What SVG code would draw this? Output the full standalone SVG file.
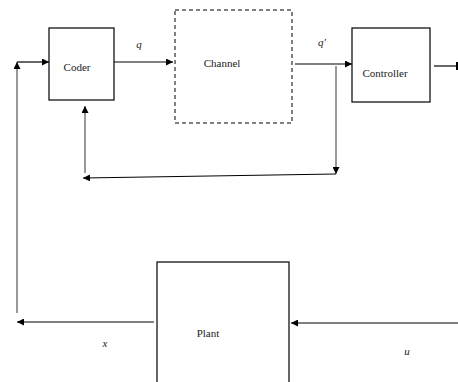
<svg xmlns="http://www.w3.org/2000/svg" width="458" height="382" viewBox="0 0 458 382">
<style>
.box{fill:#fff;stroke:#000;stroke-width:1.2}
.dash{fill:none;stroke:#000;stroke-width:1;stroke-dasharray:4,3}
.ln{fill:none;stroke:#000;stroke-width:1.2}
.lg{fill:none;stroke:#444;stroke-width:1.1}
.t{font-family:'Liberation Serif','Times New Roman',serif;font-size:11px;fill:#222}
.it{font-style:italic}
</style>
<defs>
<marker id="ah" viewBox="0 0 10 10" refX="10" refY="5" markerWidth="8" markerHeight="7" markerUnits="userSpaceOnUse" orient="auto">
<path d="M0,0 L10,5 L0,10 Z" fill="#000"/>
</marker>
</defs>
<g id="coder"><rect class="box" x="49" y="28" width="65" height="72"/><text class="t" font-family="Liberation Serif, serif" x="77" y="71" text-anchor="middle">Coder</text></g>
<g id="channel"><rect class="dash" x="175" y="10" width="117" height="113"/><text class="t" font-family="Liberation Serif, serif" x="222" y="67" text-anchor="middle">Channel</text></g>
<g id="controller"><rect class="box" x="352" y="28" width="78" height="74"/><text class="t" font-family="Liberation Serif, serif" x="385" y="77" text-anchor="middle">Controller</text></g>
<g id="plant"><rect class="box" x="157" y="262" width="132" height="130"/><text class="t" font-family="Liberation Serif, serif" x="208" y="337" text-anchor="middle">Plant</text></g>
<g id="connectors">
<line class="ln" x1="114" y1="62" x2="173" y2="62" marker-end="url(#ah)"/>
<line class="ln" x1="295" y1="64" x2="352" y2="64" marker-end="url(#ah)"/>
<line class="ln" x1="434" y1="66" x2="457" y2="66"/>
<line x1="457" y1="62" x2="457" y2="70" stroke="#000" stroke-width="2"/>
<line class="lg" x1="336" y1="66" x2="336" y2="174" marker-end="url(#ah)"/>
<line class="ln" x1="336" y1="174" x2="83" y2="178" marker-end="url(#ah)"/>
<line class="lg" x1="85" y1="173" x2="85" y2="106" marker-end="url(#ah)"/>
<line class="lg" x1="17" y1="313" x2="17" y2="62" marker-end="url(#ah)"/>
<line class="ln" x1="17" y1="62" x2="49" y2="62" marker-end="url(#ah)"/>
<line class="ln" x1="154" y1="322" x2="17" y2="322" marker-end="url(#ah)"/>
<line class="ln" x1="458" y1="323" x2="291" y2="323" marker-end="url(#ah)"/>
</g>
<text class="t it" font-family="Liberation Serif, serif" x="139" y="48" text-anchor="middle">q</text>
<text class="t it" font-family="Liberation Serif, serif" x="322" y="46" text-anchor="middle">q′</text>
<text class="t it" font-family="Liberation Serif, serif" x="105" y="347" text-anchor="middle">x</text>
<text class="t it" font-family="Liberation Serif, serif" x="407" y="355" text-anchor="middle">u</text>
</svg>
